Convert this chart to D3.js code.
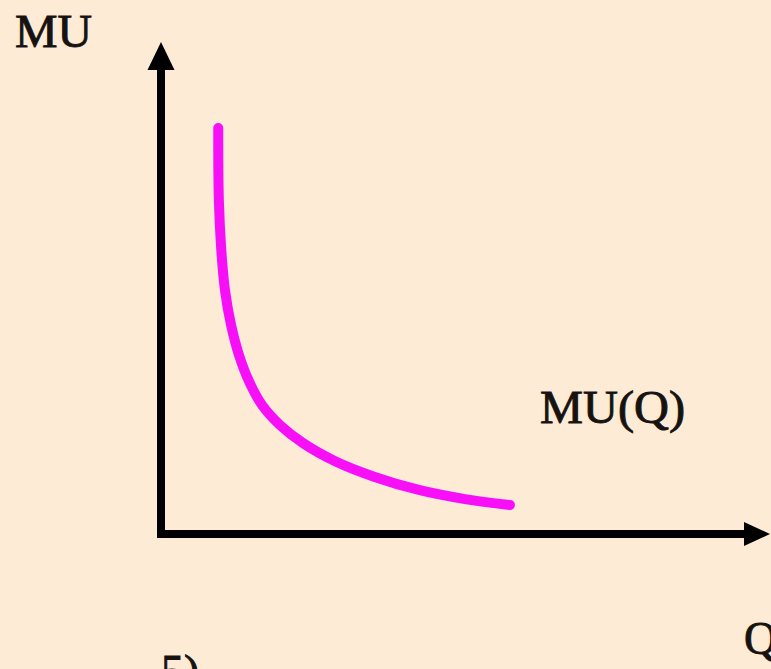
<!DOCTYPE html>
<html>
<head>
<meta charset="utf-8">
<script src="https://cdn.jsdelivr.net/npm/d3@7"></script>
<style>
  html, body { margin: 0; padding: 0; background: #fdebd6; overflow: hidden; }
  svg { display: block; }
  text { font-family: "Liberation Serif", "Times New Roman", serif; fill: #161210; stroke: #161210; stroke-width: 0.9; }
</style>
</head>
<body>
<svg id="chart" width="771" height="669"></svg>
<script>
// Quantity values along the curve
const quantity = [0.94, 0.95, 0.99, 1.05, 1.15, 1.28, 1.45, 1.66, 1.95, 2.33, 2.86, 3.51, 4.25, 4.99, 5.73];
// Marginal utility values along the curve
const marginalUtility = [8.25, 6.79, 5.77, 4.96, 4.25, 3.64, 3.09, 2.62, 2.22, 1.85, 1.48, 1.16, 0.89, 0.71, 0.59];
// Labels
const yAxisLabel = "MU";
const xAxisLabel = "Q";
const curveLabel = "MU(Q)";
const panelLabel = "5)";

const svg = d3.select("#chart");
svg.append("rect").attr("width", 771).attr("height", 669).attr("fill", "#fdebd6");

const x = d3.scaleLinear().domain([0, 10]).range([161, 770]);
const y = d3.scaleLinear().domain([0, 10]).range([534, 42]);

const points = quantity.map((q, i) => [q, marginalUtility[i]]);

// Axes
const axisW = 8;
svg.append("line")
  .attr("x1", x(0)).attr("x2", x(0))
  .attr("y1", y(0) + axisW / 2).attr("y2", y(10) + 26)
  .attr("stroke", "#000").attr("stroke-width", axisW);
svg.append("path")
  .attr("d", `M${x(0)},${y(10)} L${x(0) + 13.5},${y(10) + 28} L${x(0) - 13.5},${y(10) + 28} Z`)
  .attr("fill", "#000");
svg.append("line")
  .attr("x1", x(0) - axisW / 2).attr("x2", x(10) - 24)
  .attr("y1", y(0)).attr("y2", y(0))
  .attr("stroke", "#000").attr("stroke-width", axisW);
svg.append("path")
  .attr("d", `M${x(10)},${y(0)} L${x(10) - 26},${y(0) - 12} L${x(10) - 26},${y(0) + 12} Z`)
  .attr("fill", "#000");

// Curve
const line = d3.line()
  .x(d => x(d[0]))
  .y(d => y(d[1]))
  .curve(d3.curveCatmullRom.alpha(0.5));

svg.append("path")
  .datum(points)
  .attr("d", line)
  .attr("fill", "none")
  .attr("stroke", "#f710f7")
  .attr("stroke-width", 10)
  .attr("stroke-linecap", "round")
  .attr("stroke-linejoin", "round");

// Labels
svg.append("text").attr("x", 15).attr("y", 47).attr("font-size", 46).attr("textLength", 77).attr("lengthAdjust", "spacingAndGlyphs").text(yAxisLabel);
svg.append("text").attr("x", 540).attr("y", 423).attr("font-size", 46).attr("textLength", 145).attr("lengthAdjust", "spacingAndGlyphs").text(curveLabel);
svg.append("text").attr("x", 744).attr("y", 654).attr("font-size", 46).text(xAxisLabel);
svg.append("text").attr("x", 161).attr("y", 687).attr("font-size", 46).text(panelLabel);
</script>
</body>
</html>
